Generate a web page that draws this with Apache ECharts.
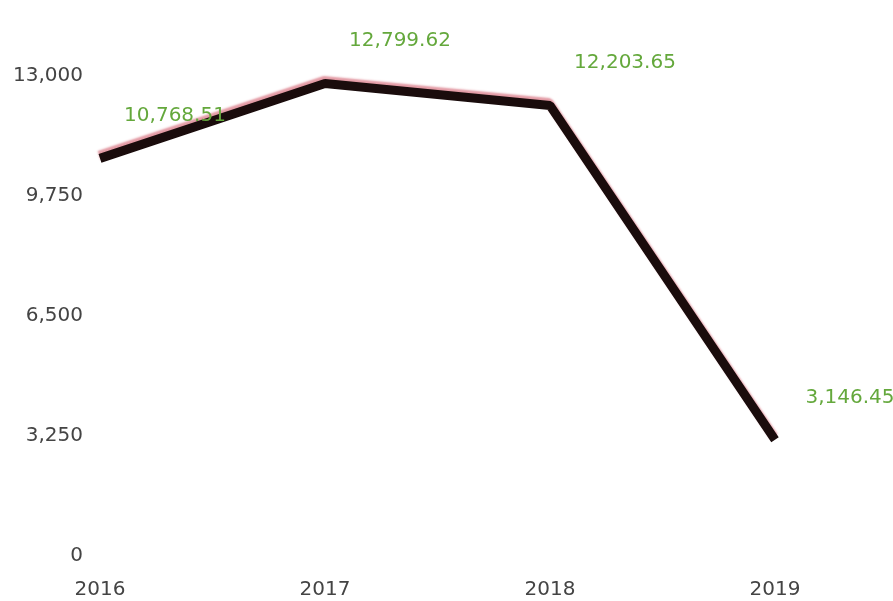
<!DOCTYPE html>
<html>
<head>
<meta charset="utf-8">
<script src="https://cdn.jsdelivr.net/npm/echarts@6/dist/echarts.min.js"></script>
<style>html,body{margin:0;padding:0;background:#fff}#c{width:893px;height:601px}</style>
</head>
<body>
<div id="c"></div>
<script>
const categories = ['2016', '2017', '2018', '2019'];
const values = [10768.51, 12799.62, 12203.65, 3146.45];
const yMin = 0, yMax = 13000, yInterval = 3250;

const fmt = v => v.toLocaleString('en-US', {minimumFractionDigits: 2, maximumFractionDigits: 2});
const chart = echarts.init(document.getElementById('c'));
chart.setOption({
  animation: false,
  grid: {left: 100, right: 118, top: 76, bottom: 45},
  xAxis: {
    type: 'category', data: categories, boundaryGap: false,
    axisLine: {show: false}, axisTick: {show: false},
    axisLabel: {color: '#444', fontSize: 20, fontFamily: 'DejaVu Sans', margin: 24}
  },
  yAxis: {
    type: 'value', min: yMin, max: yMax, interval: yInterval,
    splitLine: {show: false}, axisLine: {show: false}, axisTick: {show: false},
    axisLabel: {color: '#444', fontSize: 20, fontFamily: 'DejaVu Sans', margin: 17,
      formatter: v => v.toLocaleString('en-US')}
  },
  series: [{
    type: 'line', data: values, showSymbol: true, symbol: 'circle', symbolSize: 1,
    itemStyle: {color: 'rgba(0,0,0,0)'},
    lineStyle: {color: '#1a0c0c', width: 9, shadowColor: 'rgba(225,150,160,0.95)', shadowBlur: 2, shadowOffsetX: -1, shadowOffsetY: -3},
    label: {show: true, position: 'top', distance: 5, color: '#64a83c', fontSize: 20, fontFamily: 'DejaVu Sans',
      formatter: p => fmt(p.value)},
    labelLayout: {hideOverlap: false, dx: 75, dy: -27}
  }]
});
</script>
</body>
</html>
